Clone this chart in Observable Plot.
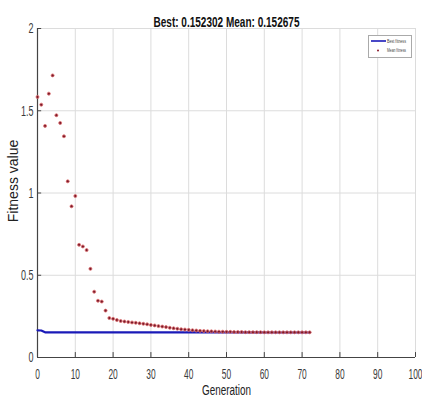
<!DOCTYPE html>
<html><head><meta charset="utf-8">
<script src="https://cdn.jsdelivr.net/npm/d3@7"></script>
<script src="https://cdn.jsdelivr.net/npm/@observablehq/plot@0.6"></script>
<style>
body{margin:0;background:#fff;}
#wrap{position:relative;width:422px;height:403px;overflow:hidden;}
#legend{position:absolute;left:368px;top:35px;width:42px;height:21px;border:1px solid #aaa;background:#fff;}
</style></head><body>
<div id="wrap"></div>
<script>
const titleText = "Best: 0.152302 Mean: 0.152675";
const xLabel = "Generation";
const yLabel = "Fitness value";
const xTicks = [0,10,20,30,40,50,60,70,80,90,100];
const yTicks = [0,0.5,1,1.5,2];
const yTickLabels = ["0","0.5","1","1.5","2"];
const meanFitness = [1.584,1.537,1.408,1.604,1.715,1.473,1.426,1.345,1.071,0.919,0.982,0.685,0.675,0.653,0.539,0.400,0.345,0.340,0.285,0.240,
  0.235,0.228,0.222,0.219,0.216,0.213,0.211,0.208,0.205,0.202,0.198,0.195,0.191,0.188,0.185,0.181,0.178,0.175,0.172,0.170,
  0.168,0.166,0.164,0.162,0.161,0.160,0.159,0.158,0.157,0.157,0.156,0.156,0.155,0.155,0.155,0.154,0.154,0.154,0.154,0.154,
  0.153,0.153,0.153,0.153,0.153,0.153,0.153,0.153,0.153,0.153,0.153,0.153,0.153];
const bestFitness = [0.165,0.164,0.153,0.153,0.153,0.153,0.153,0.153,0.153,0.153,0.153,0.153,0.153,0.153,0.153,0.153,0.153,0.153,0.153,0.153,
  0.153,0.153,0.153,0.153,0.153,0.153,0.153,0.153,0.153,0.153,0.153,0.153,0.153,0.153,0.153,0.153,0.153,0.153,0.153,0.153,
  0.153,0.153,0.153,0.153,0.153,0.153,0.153,0.153,0.153,0.153,0.153,0.153,0.153,0.153,0.153,0.153,0.153,0.153,0.153,0.153,
  0.152,0.152,0.152,0.152,0.152,0.152,0.152,0.152,0.152,0.152,0.152,0.152,0.152];
const legendLabels = ["Best fitness","Mean fitness"];

const gens = meanFitness.map((_, i) => i);
const meanData = gens.map(g => ({g, v: meanFitness[g]}));
const bestData = gens.map(g => ({g, v: bestFitness[g]}));
const font = '"Liberation Sans",Arial,sans-serif';

const chart = Plot.plot({
  width: 422, height: 403,
  marginLeft: 37, marginRight: 7, marginTop: 28, marginBottom: 46,
  style: {fontFamily: font, fontSize: "15px", color: "#333", background: "#fff", overflow: "visible"},
  x: {domain: [0,100], ticks: xTicks, label: null},
  y: {domain: [0,2], ticks: yTicks, label: null},
  marks: [
    Plot.gridX(xTicks, {stroke: "#dcdcdc", strokeOpacity: 1}),
    Plot.gridY(yTicks, {stroke: "#dcdcdc", strokeOpacity: 1}),
    Plot.ruleX(xTicks, {y1: 0, y2: 0.03, stroke: "#444"}),
    Plot.ruleY(yTicks, {x1: 0, x2: 1.1, stroke: "#444"}),
    Plot.axisX(xTicks, {tickSize: 0, tickPadding: 11, fontSize: 15, fill: "#3a3a3a", label: null}),
    Plot.axisY(yTicks, {tickSize: 0, tickPadding: 4, fontSize: 15, fill: "#3a3a3a", label: null, tickFormat: (d, i) => yTickLabels[i]}),
    Plot.ruleY([0], {stroke: "#444", strokeWidth: 1.2}),
    Plot.ruleX([0], {stroke: "#444", strokeWidth: 1.2}),
    Plot.line(bestData, {x: "g", y: "v", stroke: "#1a1ab8", strokeWidth: 2.2}),
    Plot.dot(meanData, {x: "g", y: "v", r: 1.5, fill: "#7a1a2a", stroke: "#e07070", strokeWidth: 0.8}),
    Plot.text([titleText], {frameAnchor: "top", dy: -12.5, fontWeight: "bold", fontSize: 15, fill: "#111"}),
    Plot.text([xLabel], {frameAnchor: "bottom", dy: 37, fontSize: 14, fill: "#222"}),
    Plot.text([yLabel], {frameAnchor: "left", textAnchor: "middle", dx: -24, dy: -12, rotate: -90, fontSize: 14, fill: "#222"})
  ]
});
const wrap = document.getElementById("wrap");
wrap.appendChild(chart);

const xLabelsSet = new Set(xTicks.map(String));
const yLabelsSet = new Set(yTickLabels);
chart.querySelectorAll("text").forEach(t => {
  const s = t.textContent;
  let len = null;
  let w = t.getComputedTextLength ? t.getComputedTextLength() : 0;
  if (!w) w = t.getBBox().width;
  if (s === titleText) len = 146;
  else if (s === xLabel) len = 49;
  else if (s === yLabel) len = null;
  else if (yLabelsSet.has(s) && t.closest('g[aria-label^="y-axis"]')) len = w * 0.6;
  else if (xLabelsSet.has(s)) len = w * 0.56;
  if (len != null && w > 0) {
    t.setAttribute("textLength", len);
    t.setAttribute("lengthAdjust", "spacingAndGlyphs");
  }
});

// legend
const leg = document.createElement("div");
leg.id = "legend";
leg.innerHTML = `<svg width="42" height="21" style="display:block">
  <line x1="2" y1="5" x2="17" y2="5" stroke="#1a1ab8" stroke-width="1.6"/>
  <text x="18" y="6.5" font-size="4.5" textLength="19" lengthAdjust="spacingAndGlyphs" fill="#444" font-family="Liberation Sans, sans-serif">${legendLabels[0]}</text>
  <circle cx="9" cy="14.5" r="1" fill="#8a1a2a"/>
  <text x="18" y="16" font-size="4.5" textLength="19" lengthAdjust="spacingAndGlyphs" fill="#444" font-family="Liberation Sans, sans-serif">${legendLabels[1]}</text>
</svg>`;
wrap.appendChild(leg);
</script>
</body></html>
